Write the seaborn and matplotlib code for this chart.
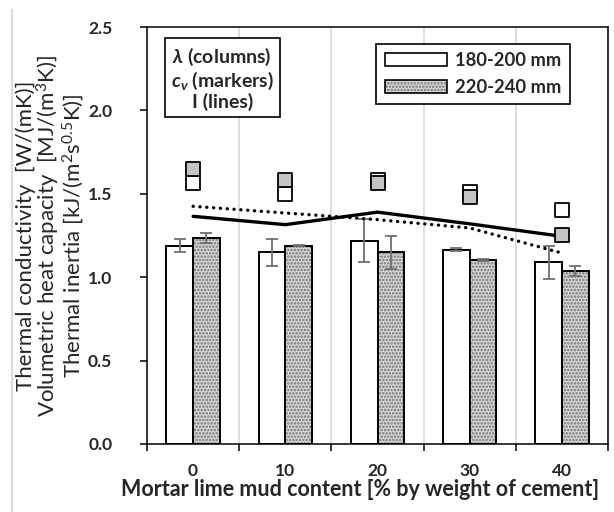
import numpy as np
import pandas as pd
import matplotlib
matplotlib.use("Agg")
import matplotlib.pyplot as plt
from matplotlib.patches import Patch
from matplotlib.lines import Line2D
import seaborn as sns

# ---- data ----
categories = ["0", "10", "20", "30", "40"]
sizes = ["180-200 mm", "220-240 mm"]
lam_180 = [1.19, 1.15, 1.22, 1.165, 1.09]
lam_220 = [1.235, 1.19, 1.15, 1.105, 1.04]
err_180 = [0.04, 0.08, 0.13, 0.01, 0.10]
err_220 = [0.03, 0.005, 0.10, 0.005, 0.03]
cv_180 = [1.565, 1.50, 1.585, 1.51, 1.40]
cv_220 = [1.65, 1.585, 1.565, 1.48, 1.255]
inertia_180 = [1.365, 1.315, 1.39, 1.32, 1.245]
inertia_220 = [1.425, 1.385, 1.345, 1.295, 1.145]
y_ticks = [0.0, 0.5, 1.0, 1.5, 2.0, 2.5]

sns.set_style("white")
plt.rcParams["font.family"] = ["Lato", "DejaVu Sans"]
plt.rcParams["mathtext.fontset"] = "custom"
plt.rcParams["mathtext.rm"] = "Lato"
plt.rcParams["mathtext.it"] = "Lato:italic"
plt.rcParams["mathtext.bf"] = "Lato:bold"
plt.rcParams["mathtext.bfit"] = "Lato:italic:bold"
plt.rcParams["hatch.linewidth"] = 1.2

GREY = "#d6d6d6"
HATCH_C = (0.45, 0.45, 0.45, 1.0)

df = pd.DataFrame({
    "content": categories * 2,
    "size": [sizes[0]] * len(categories) + [sizes[1]] * len(categories),
    "lam": lam_180 + lam_220,
})

fig = plt.figure(figsize=(6.14, 5.12), dpi=100)
ax = fig.add_axes([147 / 614, 68 / 512, 461 / 614, 417 / 512])

sns.barplot(data=df, x="content", y="lam", hue="size", order=categories,
            hue_order=sizes, palette=["white", GREY], edgecolor="black",
            linewidth=1.4, width=0.58, errorbar=None, legend=False, ax=ax,
            zorder=2)

# hatch grey bars
for bar in ax.containers[1]:
    bar.set_hatch(".....")
    bar._hatch_color = HATCH_C

# error bars
for cont, errs in zip(ax.containers, [err_180, err_220]):
    xs = [b.get_x() + b.get_width() / 2 for b in cont]
    hs = [b.get_height() for b in cont]
    ax.errorbar(xs, hs, yerr=errs, fmt="none", ecolor="#707070",
                elinewidth=1.3, capsize=4.5, capthick=1.3, zorder=3)

pos = np.arange(len(categories))
# lines (thermal inertia)
sns.lineplot(x=pos, y=inertia_180, color="black", lw=2.4, ax=ax, zorder=4)
sns.lineplot(x=pos, y=inertia_220, color="black", lw=2.4, ax=ax, zorder=4,
             linestyle=(0, (0.05, 2.0)), dash_capstyle="round")

# markers (heat capacity)
sns.scatterplot(x=pos, y=cv_180, marker="s", s=95, color="white",
                edgecolor="black", linewidth=1.3, ax=ax, zorder=5)
sns.scatterplot(x=pos, y=cv_220, marker="s", s=95, color="#c4c4c4",
                edgecolor="black", linewidth=1.3, ax=ax, zorder=6)

# axes styling
ax.set_xlim(-0.5, len(categories) - 0.5)
ax.set_ylim(0, 2.5)
ax.set_yticks(y_ticks)
ax.set_yticklabels([f"{v:.1f}" for v in y_ticks], fontsize=12.5,
                   fontweight="bold")
ax.set_xticks(pos)
ax.set_xticklabels(categories, fontsize=12.5, fontweight="bold")
ax.set_xticks(np.arange(-0.5, len(categories), 1.0), minor=True)
ax.tick_params(axis="x", which="major", length=0, pad=14)
ax.tick_params(axis="x", which="minor", length=5, width=1.1,
               direction="out", color="black", bottom=True)
ax.tick_params(axis="y", length=5, width=1.1, direction="out",
               color="black", left=True, pad=20)
ax.grid(False)
ax.xaxis.grid(True, which="minor", color="#d4d4d4", lw=1.1, zorder=0)
ax.set_axisbelow(True)
for sp in ax.spines.values():
    sp.set_visible(True)
    sp.set_color("black")
    sp.set_linewidth(1.1)

ax.set_xlabel("Mortar lime mud content [% by weight of cement]",
              fontsize=15.5, fontweight="bold")
ax.xaxis.set_label_coords(0.463, -0.083)
ax.set_ylabel("Thermal conductivity  [W/(mK)]\n"
              "Volumetric heat capacity  [MJ/(m$^3$K)]\n"
              "Thermal inertia [kJ/(m$^2$s$^{0.5}$K)]",
              fontsize=16, linespacing=0.92)
ax.yaxis.set_label_coords(-0.132, 0.5)

# legend for bars
h1 = Patch(facecolor="white", edgecolor="black", linewidth=1.2)
h2 = Patch(facecolor=GREY, edgecolor="black", linewidth=1.2, hatch=".....")
h2._hatch_color = HATCH_C
leg = ax.legend([h1, h2], sizes, loc="upper right",
                bbox_to_anchor=(0.937, 0.981), fancybox=False,
                edgecolor="black", framealpha=1,
                prop={"weight": "bold", "size": 13.2},
                handlelength=3.4, handleheight=0.72, borderpad=0.45,
                labelspacing=0.5, handletextpad=0.45)
leg.get_frame().set_linewidth(1.2)

# text box
ax.text(0.163, 0.8765,
        "$\\mathbfit{\\lambda}$ (columns)\n"
        "$\\mathbfit{c}_{\\mathbfit{v}}$ (markers)\n"
        "I (lines)",
        transform=ax.transAxes, ha="center", va="center",
        fontsize=14, fontweight="bold", linespacing=1.1,
        bbox=dict(boxstyle="square,pad=0.3", facecolor="white",
                  edgecolor="black", linewidth=1.2), zorder=7)

# faint frame line at the left of the image
fig.add_artist(Line2D([11.5 / 614, 11.5 / 614], [0, 1 - 10 / 512],
                      color="#dcdcdc", lw=1.5))

fig.savefig("out.png", dpi=100)
